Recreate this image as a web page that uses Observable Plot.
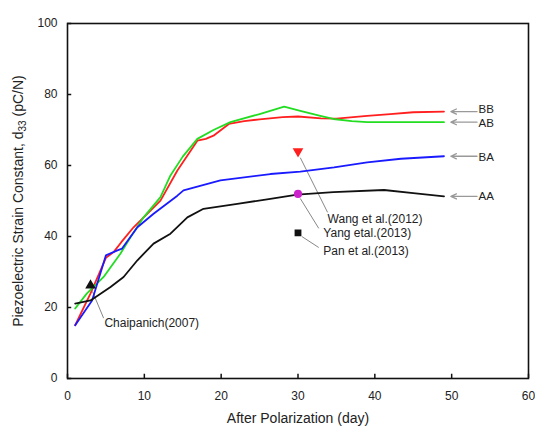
<!DOCTYPE html>
<html>
<head>
<meta charset="utf-8">
<script src="https://cdn.jsdelivr.net/npm/d3@7"></script>
<script src="https://cdn.jsdelivr.net/npm/@observablehq/plot@0.6"></script>
<style>
  html, body { margin: 0; padding: 0; background: #fff; }
  #chart { width: 535px; height: 430px; }
</style>
</head>
<body>
<div id="chart"></div>
<script>
// ---- data ----
const bbDays = [1, 3, 5, 6, 7, 8.6, 10.8, 12.1, 14.3, 16.9, 18, 19, 21, 23, 25, 28, 30, 33, 35, 39, 42, 45, 49];
const bbVals = [15, 24, 34, 35.6, 38.4, 42.6, 47.3, 50.1, 58.6, 67, 67.5, 68.4, 71.7, 72.5, 73, 73.6, 73.8, 73.3, 73.2, 74, 74.5, 75, 75.2];

const abDays = [1, 2.5, 4.7, 6.9, 8.2, 9.9, 12.1, 13.4, 15, 16.9, 19, 21.2, 25, 28.2, 30.3, 32.9, 34.6, 37, 39, 45, 49];
const abVals = [19.7, 23.9, 28.6, 35.2, 39.8, 45.4, 51.1, 57.2, 62.5, 67.5, 70, 72.2, 74.5, 76.6, 75.4, 74, 73.1, 72.5, 72.2, 72.2, 72.2];

const baDays = [1, 3.2, 5, 6.5, 7.1, 9.1, 11.2, 14.3, 15.1, 19.9, 26.4, 30.3, 34.7, 39, 43.4, 49];
const baVals = [15, 22, 34.7, 36.1, 36.6, 42.6, 46.4, 51.5, 53, 55.8, 57.6, 58.3, 59.5, 60.9, 61.9, 62.6];

const aaDays = [1, 3, 5.6, 7.3, 9.1, 11.2, 13.4, 15.6, 17.7, 22.1, 26.4, 29.9, 34.6, 41.2, 45, 49];
const aaVals = [21.1, 22, 25.8, 28.6, 33.3, 38, 40.8, 45.4, 47.8, 49.2, 50.6, 51.8, 52.5, 53.1, 52.2, 51.3];

const seriesNames = ["BB", "AB", "BA", "AA"];
const seriesColors = ["#ff1f1f", "#22dd22", "#1a1aff", "#111111"];
const seriesLabelY = [75.7, 71.8, 62.4, 51.4];
const seriesArrowY = [75.2, 72.2, 62.6, 51.3];

const refNames = ["Chaipanich(2007)", "Wang et al.(2012)", "Yang etal.(2013)", "Pan et al.(2013)"];
const refDays = [3, 30, 30, 30];
const refVals = [26.2, 64, 52, 41];
const refSymbols = ["triangle", "triangle", "circle", "square"];
const refRotate = [0, 180, 0, 0];
const refColors = ["#111111", "#ff1f1f", "#cc22cc", "#111111"];
const refLabelX = [4.8, 33.85, 33.3, 33.3];
const refLabelY = [15.6, 45, 40.9, 35.8];
const refLeadX1 = [3.25, 30.3, 30.3, 30.5];
const refLeadY1 = [24.5, 62.2, 50.7, 40];
const refLeadX2 = [4.7, 33.85, 32.7, 32.7];
const refLeadY2 = [17, 46.8, 42.3, 36.9];

const xTicks = [0, 10, 20, 30, 40, 50, 60];
const yTicks = [0, 20, 40, 60, 80, 100];
const xLabel = "After Polarization (day)";

// ---- build tables ----
const lines = [
  ...bbDays.map((d, i) => ({s: "BB", x: d, y: bbVals[i]})),
  ...abDays.map((d, i) => ({s: "AB", x: d, y: abVals[i]})),
  ...baDays.map((d, i) => ({s: "BA", x: d, y: baVals[i]})),
  ...aaDays.map((d, i) => ({s: "AA", x: d, y: aaVals[i]}))
];
const labels = seriesNames.map((n, i) => ({n, y: seriesLabelY[i], ay: seriesArrowY[i]}));
const refs = refNames.map((n, i) => ({
  n, x: refDays[i], y: refVals[i], sym: refSymbols[i], rot: refRotate[i], c: refColors[i],
  lx: refLabelX[i], ly: refLabelY[i],
  x1: refLeadX1[i], y1: refLeadY1[i], x2: refLeadX2[i], y2: refLeadY2[i]
}));

const chart = Plot.plot({
  width: 535,
  height: 430,
  marginLeft: 67,
  marginRight: 7,
  marginTop: 23,
  marginBottom: 52,
  style: {fontFamily: "'Liberation Sans', Arial, sans-serif", fontSize: "12px", color: "#222", background: "#fff"},
  x: {domain: [0, 60], axis: null},
  y: {domain: [0, 100], axis: null},
  color: {domain: seriesNames, range: seriesColors},
  marks: [
    Plot.axisX({ticks: xTicks, tickSize: 0, tickPadding: 13, fontSize: 12, label: null}),
    Plot.axisY({ticks: yTicks, tickSize: 0, tickPadding: 10, fontSize: 12, label: null}),
    Plot.ruleX(xTicks, {x: d => d, y1: 0, y2: 1.2, stroke: "#111", strokeWidth: 1.5}),
    Plot.ruleY(yTicks, {y: d => d, x1: 0, x2: 0.55, stroke: "#111", strokeWidth: 1.5}),
    Plot.frame({stroke: "#111", strokeWidth: 1.6}),
    // leader lines
    Plot.link(refs, {x1: "x1", y1: "y1", x2: "x2", y2: "y2", stroke: "#888", strokeWidth: 1}),
    // series lines
    Plot.line(lines, {x: "x", y: "y", z: "s", stroke: "s", strokeWidth: 1.8}),
    // reference points, one mark per symbol
    ...refs.map(r => Plot.dot([r], {x: "x", y: "y", symbol: r.sym, rotate: r.rot, fill: r.c, stroke: r.c, r: r.sym === "circle" ? 3.3 : 3})),
    Plot.text(refs, {x: "lx", y: "ly", text: "n", textAnchor: "start", fontSize: 12, fill: "#222"}),
    // series arrows & labels
    Plot.arrow(labels, {x1: 53.3, x2: 49.9, y1: "ay", y2: "ay", stroke: "#999", strokeWidth: 1.3, headLength: 7, headAngle: 50}),
    Plot.text(labels, {x: 53.5, y: "y", text: "n", textAnchor: "start", fontSize: 11.5, fill: "#222"}),
    Plot.text([xLabel], {frameAnchor: "bottom", dy: 44, text: d => d, fontSize: 14, fill: "#222"})
  ]
});

document.getElementById("chart").appendChild(chart);

// y-axis title with subscript
const svg = d3.select(chart);
const t = svg.append("text")
  .attr("transform", "translate(23,201) rotate(-90)")
  .attr("text-anchor", "middle")
  .attr("font-size", 14)
  .attr("fill", "#222")
  .attr("font-family", "'Liberation Sans', Arial, sans-serif");
t.append("tspan").text("Piezoelectric Strain Constant, d");
t.append("tspan").attr("font-size", 10).attr("dy", 3).text("33");
t.append("tspan").attr("dy", -3).text(" (pC/N)");
</script>
</body>
</html>
